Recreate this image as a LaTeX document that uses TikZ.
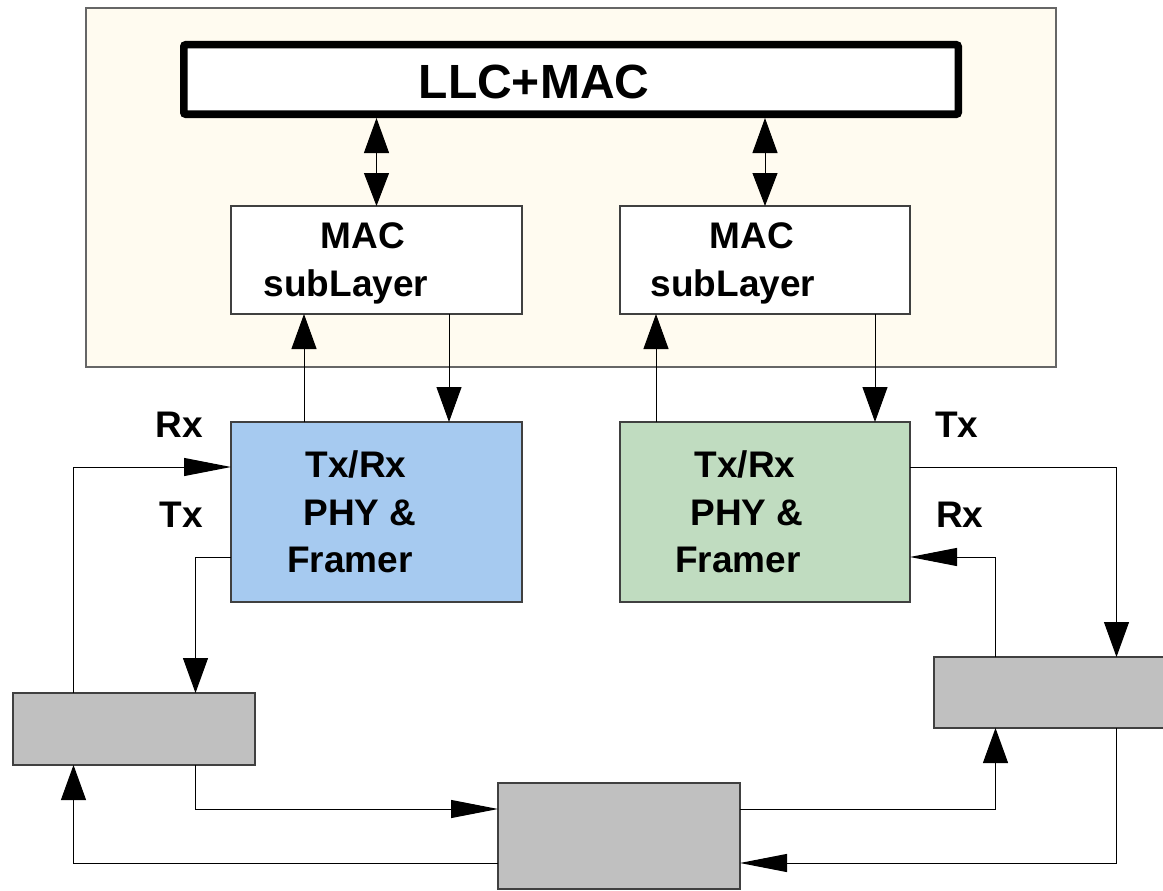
\documentclass[tikz,border=0pt]{standalone}
\usepackage{fontspec}
\setmainfont{Liberation Sans}
\usetikzlibrary{arrows.meta}
\definecolor{cream}{HTML}{FFFBF0}
\definecolor{skyblue}{HTML}{A6CAF0}
\definecolor{moneygreen}{HTML}{C0DCC0}
\definecolor{boxgray}{HTML}{C0C0C0}
\tikzset{
  box/.style={draw=black!75, line width=1.2pt, anchor=north west, inner sep=0pt, outer sep=0pt},
  txt/.style={inner sep=0pt, anchor=base, font=\fontsize{37}{44}\selectfont\bfseries},
  conn/.style={draw=black, line width=1pt},
  varr/.style={conn, -{Triangle[length=35pt,width=25pt]}},
  harr/.style={conn, -{Triangle[length=47pt,width=18pt]}},
  darr/.style={conn, {Triangle[length=33pt,width=25pt]}-{Triangle[length=35pt,width=25pt]}},
}
\begin{document}
\begin{tikzpicture}[x=1pt,y=-1pt]
\clip (0,0) rectangle (1163,891);
\fill[white] (0,0) rectangle (1163,891);
% upper container
\node[box, draw=black!60, fill=cream, minimum width=970pt, minimum height=359pt] (outer) at (86,8) {};
\node[box, draw=black, line width=7.5pt, rounded corners=2pt, fill=white, minimum width=774.5pt, minimum height=69.5pt] (llc) at (183.75,44.75) {};
\node[txt, font=\fontsize{48}{56}\selectfont\bfseries] (llct) at (534,99) {LLC+MAC};
% MAC sublayers
\node[box, fill=white, minimum width=291pt, minimum height=108pt] (mac1) at (231,206) {};
\node[txt] (mac1a) at (363,248) {MAC};
\node[txt] (mac1b) at (346,296) {subLayer};
\node[box, fill=white, minimum width=290pt, minimum height=108pt] (mac2) at (620,206) {};
\node[txt] (mac2a) at (752,248) {MAC};
\node[txt] (mac2b) at (733,296) {subLayer};
% PHY boxes
\node[box, fill=skyblue, minimum width=291pt, minimum height=180pt] (phy1) at (231,422) {};
\node[txt] (phy1a) at (356,477) {Tx/Rx};
\node[txt] (phy1b) at (360,525) {PHY \&};
\node[txt] (phy1c) at (350,572) {Framer};
\node[box, fill=moneygreen, minimum width=290pt, minimum height=180pt] (phy2) at (620,422) {};
\node[txt] (phy2a) at (745,477) {Tx/Rx};
\node[txt] (phy2b) at (747,525) {PHY \&};
\node[txt] (phy2c) at (738,572) {Framer};
% grey boxes
\node[box, fill=boxgray, minimum width=242pt, minimum height=72pt] (lgray) at (13,693) {};
\node[box, fill=boxgray, minimum width=242pt, minimum height=106pt] (bgray) at (498,783) {};
\node[box, fill=boxgray, minimum width=240pt, minimum height=71pt] (rgray) at (934,657) {};
% labels
\node[txt, anchor=base east] (lrx) at (203,437) {Rx};
\node[txt, anchor=base east] (ltx) at (203,527) {Tx};
\node[txt, anchor=base west] (rtx) at (935,437) {Tx};
\node[txt, anchor=base west] (rrx) at (936,527) {Rx};
% LLC <-> MAC
\draw[darr, shorten >=3.75pt] (mac1.north) -- (mac1.north |- llc.south);
\draw[darr, shorten >=3.75pt] (mac2.north) -- (mac2.north |- llc.south);
% MAC <-> PHY
\draw[varr] ([xshift=73pt]phy1.north west) -- ([xshift=73pt]mac1.south west);
\draw[varr] ([xshift=218pt]mac1.south west) -- ([xshift=218pt]phy1.north west);
\draw[varr] ([xshift=36pt]phy2.north west) -- ([xshift=36pt]mac2.south west);
\draw[varr] ([xshift=255pt]mac2.south west) -- ([xshift=255pt]phy2.north west);
% left loop
\draw[harr] ([xshift=60.5pt]lgray.north west) |- ([yshift=-45pt]phy1.north west);
\draw[varr] ([yshift=-135pt]phy1.north west) -| ([xshift=182.5pt]lgray.north west);
\draw[harr] ([xshift=182.5pt]lgray.south west) |- ([yshift=-26pt]bgray.north west);
\draw[varr] ([yshift=-80pt]bgray.north west) -| ([xshift=60.5pt]lgray.south west);
% right loop
\draw[varr] ([yshift=-26pt]bgray.north east) -| ([xshift=61.5pt]rgray.south west);
\draw[harr] ([xshift=182.5pt]rgray.south west) |- ([yshift=-80pt]bgray.north east);
\draw[varr] ([yshift=-45pt]phy2.north east) -| ([xshift=182.5pt]rgray.north west);
\draw[harr] ([xshift=61.5pt]rgray.north west) |- ([yshift=-135pt]phy2.north east);
\end{tikzpicture}
\end{document}
